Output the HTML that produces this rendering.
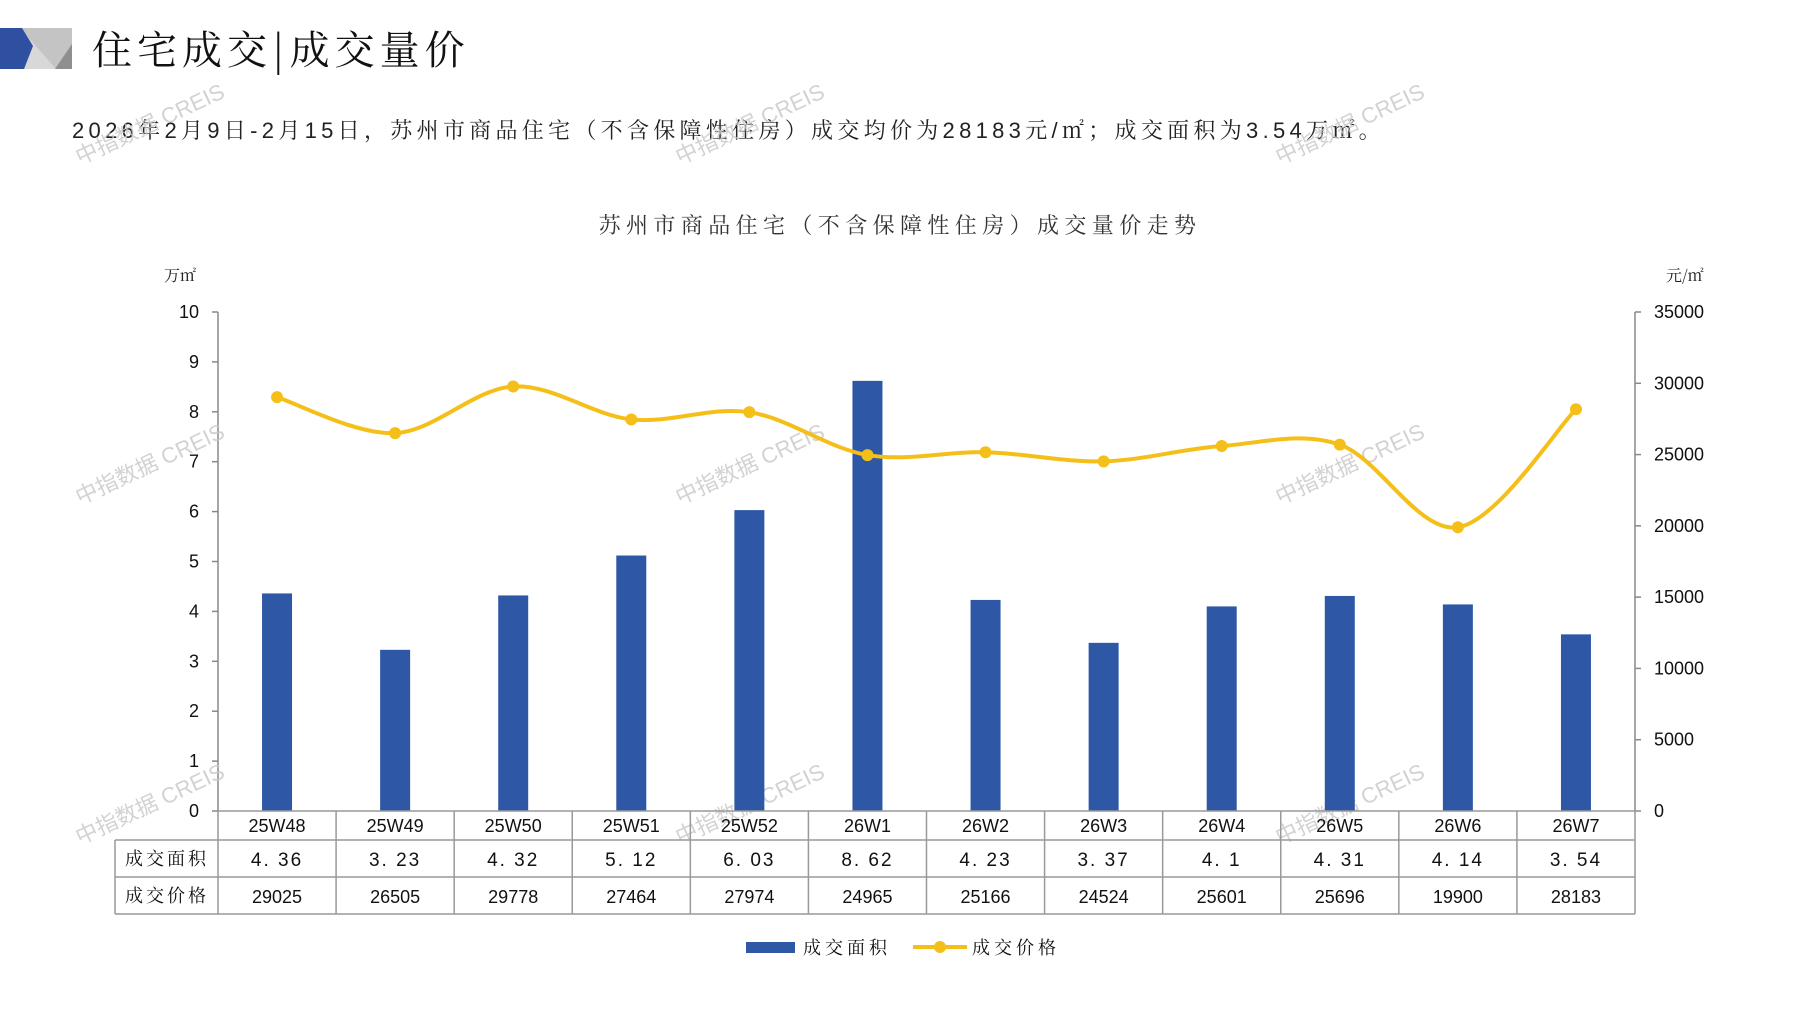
<!DOCTYPE html>
<html><head><meta charset="utf-8">
<style>
html,body{margin:0;padding:0;background:#fff;}
body{width:1797px;height:1010px;overflow:hidden;position:relative;font-family:"Liberation Sans","Noto Serif CJK SC",serif;}
svg{position:absolute;left:0;top:0;}
</style></head><body>
<svg id="s" width="1797" height="1010" xmlns="http://www.w3.org/2000/svg">
<polygon points="0,28 64,28 72,28 72,69 0,69" fill="#d8d8d8"/>
<polygon points="20,28 72,28 72,69 56,69" fill="#c4c4c4"/>
<polygon points="72,44 72,69 55,69" fill="#8f8f8f"/>
<polygon points="0,28 22,28 33,46 24,69 0,69" fill="#2f4fa0"/>
<text x="92" y="64" font-size="40" fill="#111" font-family="Noto Serif CJK SC,serif" letter-spacing="5">住宅成交|成交量价</text>
<text x="72" y="138" font-size="22" fill="#222" font-family="Liberation Sans,Noto Serif CJK SC,serif" letter-spacing="4.3">2026年2月9日-2月15日，苏州市商品住宅（不含保障性住房）成交均价为28183元/㎡；成交面积为3.54万㎡。</text>
<text x="900" y="233" font-size="22" fill="#333" text-anchor="middle" font-family="Noto Serif CJK SC,serif" letter-spacing="5.4">苏州市商品住宅（不含保障性住房）成交量价走势</text>
<text x="164" y="281" font-size="16" fill="#222" font-family="Noto Serif CJK SC,serif">万㎡</text>
<text x="1666" y="281" font-size="16" fill="#222" font-family="Noto Serif CJK SC,serif">元/㎡</text>
<g id="g"></g>
</svg>
<script>
var g=document.getElementById('g'),h='';
var L=218,R=1635,T=312,B=811,cw=(R-L)/12;
var cats=['25W48','25W49','25W50','25W51','25W52','26W1','26W2','26W3','26W4','26W5','26W6','26W7'];
var area=['4.36','3.23','4.32','5.12','6.03','8.62','4.23','3.37','4.1','4.31','4.14','3.54'];
var price=[29025,26505,29778,27464,27974,24965,25166,24524,25601,25696,19900,28183];
h+='<line x1="'+L+'" y1="'+T+'" x2="'+L+'" y2="'+B+'" stroke="#888" stroke-width="1.5"/>';
h+='<line x1="'+R+'" y1="'+T+'" x2="'+R+'" y2="'+B+'" stroke="#888" stroke-width="1.5"/>';
for(var i=0;i<=10;i++){var y=B-i*(B-T)/10;
 h+='<line x1="'+(L-6)+'" y1="'+y+'" x2="'+L+'" y2="'+y+'" stroke="#888" stroke-width="1.5"/>';
 h+='<text x="199" y="'+(y+6)+'" font-size="18" text-anchor="end" fill="#111">'+i+'</text>';}
for(var i=0;i<=7;i++){var y=B-i*(B-T)/7;
 h+='<line x1="'+R+'" y1="'+y+'" x2="'+(R+6)+'" y2="'+y+'" stroke="#888" stroke-width="1.5"/>';
 h+='<text x="1654" y="'+(y+6)+'" font-size="18" fill="#111">'+(i*5000)+'</text>';}
var wm=[[80,165],[680,165],[1280,165],[80,505],[680,505],[1280,505],[80,845],[680,845],[1280,845]];
wm.forEach(function(p){h+='<text x="'+p[0]+'" y="'+p[1]+'" font-size="22" fill="#c8c8c8" opacity="0.8" transform="rotate(-25 '+p[0]+' '+p[1]+')" font-family="Liberation Sans,Noto Sans CJK SC,sans-serif">中指数据 CREIS</text>';});
var pts=[];
for(var i=0;i<12;i++){var cx=L+cw*(i+0.5),v=parseFloat(area[i]),y=B-v*(B-T)/10;
 h+='<rect x="'+(cx-15)+'" y="'+y+'" width="30" height="'+(B-y)+'" fill="#2e58a6"/>';
 pts.push([cx,B-price[i]*(B-T)/35000]);}
var d='M'+pts[0][0]+','+pts[0][1];
for(var i=0;i<11;i++){var p0=pts[Math.max(i-1,0)],p1=pts[i],p2=pts[i+1],p3=pts[Math.min(i+2,11)];
 var c1=[p1[0]+(p2[0]-p0[0])/6,p1[1]+(p2[1]-p0[1])/6],c2=[p2[0]-(p3[0]-p1[0])/6,p2[1]-(p3[1]-p1[1])/6];
 d+=' C'+c1+' '+c2+' '+p2;}
h+='<path d="'+d+'" fill="none" stroke="#f5bf1a" stroke-width="4"/>';
pts.forEach(function(p){h+='<circle cx="'+p[0]+'" cy="'+p[1]+'" r="6" fill="#f5bf1a"/>';});
var TL=115,r1=840,r2=877,r3=914,st='stroke="#999" stroke-width="1.5"';
h+='<line x1="'+L+'" y1="'+B+'" x2="'+R+'" y2="'+B+'" '+st+'/>';
h+='<line x1="'+TL+'" y1="'+r1+'" x2="'+R+'" y2="'+r1+'" '+st+'/>';
h+='<line x1="'+TL+'" y1="'+r2+'" x2="'+R+'" y2="'+r2+'" '+st+'/>';
h+='<line x1="'+TL+'" y1="'+r3+'" x2="'+R+'" y2="'+r3+'" '+st+'/>';
h+='<line x1="'+TL+'" y1="'+r1+'" x2="'+TL+'" y2="'+r3+'" '+st+'/>';
for(var i=0;i<=12;i++){var x=L+cw*i;h+='<line x1="'+x+'" y1="'+B+'" x2="'+x+'" y2="'+r3+'" '+st+'/>';}
h+='<text x="167" y="865" font-size="18" text-anchor="middle" fill="#111" font-family="Noto Serif CJK SC,serif" letter-spacing="3">成交面积</text>';
h+='<text x="167" y="902" font-size="18" text-anchor="middle" fill="#111" font-family="Noto Serif CJK SC,serif" letter-spacing="3">成交价格</text>';
for(var i=0;i<12;i++){var cx=L+cw*(i+0.5);
 h+='<text x="'+cx+'" y="832" font-size="18" text-anchor="middle" fill="#111">'+cats[i]+'</text>';
 h+='<text x="'+cx+'" y="866" font-size="19" text-anchor="middle" fill="#111" letter-spacing="2">'+area[i].replace('.','. ')+'</text>';
 h+='<text x="'+cx+'" y="903" font-size="18" text-anchor="middle" fill="#111">'+price[i]+'</text>';}
h+='<rect x="746" y="942" width="49" height="11" fill="#2e58a6"/>';
h+='<text x="803" y="954" font-size="18" fill="#111" font-family="Noto Serif CJK SC,serif" letter-spacing="4">成交面积</text>';
h+='<line x1="913" y1="947" x2="967" y2="947" stroke="#f5bf1a" stroke-width="4"/><circle cx="940" cy="947" r="6" fill="#f5bf1a"/>';
h+='<text x="972" y="954" font-size="18" fill="#111" font-family="Noto Serif CJK SC,serif" letter-spacing="4">成交价格</text>';
g.innerHTML=h;
</script>
</body></html>
